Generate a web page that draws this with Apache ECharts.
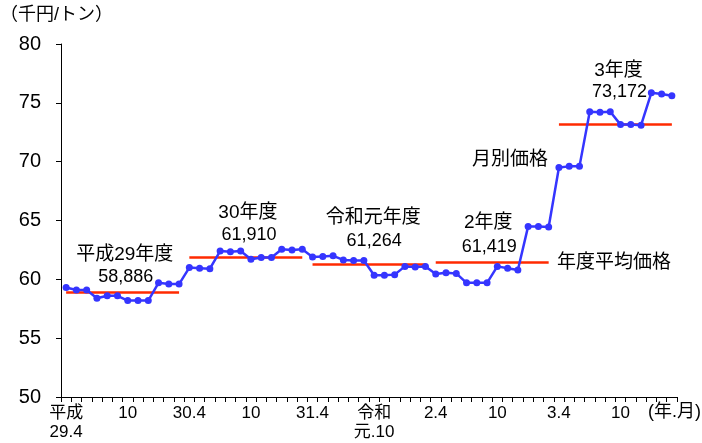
<!DOCTYPE html>
<html>
<head>
<meta charset="utf-8">
<script src="https://cdn.jsdelivr.net/npm/echarts@6/dist/echarts.min.js"></script>
<style>
  html, body { margin: 0; padding: 0; background: #fff; }
  #chart { width: 702px; height: 443px; }
</style>
</head>
<body>
<div id="chart"></div>
<script>
// Monthly prices (thousand yen per ton), April through March of each fiscal year
const fiscalYears = ['平成29年度', '30年度', '令和元年度', '2年度', '3年度'];
const fyStartYear = [2017, 2018, 2019, 2020, 2021];
const priceFY2017 = [59.3, 59.1, 59.1, 58.4, 58.6, 58.6, 58.2, 58.2, 58.2, 59.7, 59.6, 59.6];
const priceFY2018 = [61.0, 60.95, 60.9, 62.4, 62.35, 62.4, 61.7, 61.85, 61.85, 62.55, 62.5, 62.55];
const priceFY2019 = [61.9, 61.95, 62.0, 61.65, 61.6, 61.6, 60.35, 60.35, 60.4, 61.1, 61.05, 61.1];
const priceFY2020 = [60.45, 60.55, 60.5, 59.7, 59.7, 59.7, 61.1, 60.95, 60.8, 64.5, 64.5, 64.45];
const priceFY2021 = [69.5, 69.6, 69.6, 74.25, 74.2, 74.25, 73.15, 73.15, 73.1, 75.85, 75.75, 75.6];
// Fiscal-year average prices (yen per ton)
const yearAverages = [58886, 61910, 61264, 61419, 73172];
// Axis tick labels: [category index, text]
const tickLabels = [
  [0, '平成\n29.4'], [6, '10'], [12, '30.4'], [18, '10'], [24, '31.4'],
  [30, '令和\n元.10'], [36, '2.4'], [42, '10'], [48, '3.4'], [54, '10']
];
const yTicks = { min: 50, max: 80, interval: 5 };

const yearly = [priceFY2017, priceFY2018, priceFY2019, priceFY2020, priceFY2021];
const monthsOrder = [4, 5, 6, 7, 8, 9, 10, 11, 12, 1, 2, 3];
const categories = [];
const monthly = [];
yearly.forEach((arr, y) => {
  arr.forEach((v, m) => {
    const mo = monthsOrder[m];
    const yr = mo >= 4 ? fyStartYear[y] : fyStartYear[y] + 1;
    categories.push(yr + '.' + mo);
    monthly.push(v);
  });
});
const tickMap = {};
tickLabels.forEach(([i, t]) => { tickMap[i] = t; });

const FONT = '"Liberation Sans", "Noto Sans CJK JP", sans-serif';
const BLUE = '#3535FF';
const RED = '#FF2A00';

// Average price segments spanning each fiscal year
const avgSegments = yearAverages.map((a, y) => [
  { coord: [y * 12, a / 1000] },
  { coord: [y * 12 + 11, a / 1000] }
]);

const chart = echarts.init(document.getElementById('chart'), null, { renderer: 'canvas' });

const option = {
  animation: false,
  backgroundColor: '#fff',
  textStyle: { fontFamily: FONT },
  grid: { left: 61, right: 25, top: 44, bottom: 46, containLabel: false },
  xAxis: {
    type: 'category',
    data: categories,
    boundaryGap: true,
    axisLine: { lineStyle: { color: '#000', width: 1 } },
    axisTick: { show: true, interval: 0, length: 5, lineStyle: { color: '#000' } },
    axisLabel: {
      interval: 0,
      margin: 7,
      color: '#000',
      fontSize: 17,
      lineHeight: 19,
      fontFamily: FONT,
      formatter: (val, idx) => tickMap[idx] || ''
    },
    splitLine: { show: false }
  },
  yAxis: {
    type: 'value',
    min: yTicks.min,
    max: yTicks.max,
    interval: yTicks.interval,
    axisLine: { show: true, lineStyle: { color: '#000', width: 1 } },
    axisTick: { show: true, length: 5, lineStyle: { color: '#000' } },
    axisLabel: { color: '#000', fontSize: 20, margin: 20, fontFamily: FONT },
    splitLine: { show: false }
  },
  series: [
    {
      name: '月別価格',
      type: 'line',
      data: monthly,
      symbol: 'circle',
      symbolSize: 7,
      lineStyle: { color: BLUE, width: 2.5 },
      itemStyle: { color: BLUE },
      z: 3,
      markLine: {
        silent: true,
        symbol: ['none', 'none'],
        label: { show: false },
        lineStyle: { color: RED, width: 2.5, type: 'solid' },
        data: avgSegments,
        z: 2
      }
    }
  ]
};
chart.setOption(option);

// Fiscal-year captions above each average segment
const captionLift = [
  { dx: -3, name: 38, val: 15 },
  { dx: -3, name: 44, val: 22 },
  { dx: -1, name: 47, val: 23 },
  { dx: -9, name: 40, val: 16 },
  { dx: -2, name: 54, val: 32 }
];
const graphics = [];
yearAverages.forEach((a, y) => {
  const p = chart.convertToPixel({ gridIndex: 0 }, [y * 12 + 5.5, a / 1000]);
  const lift = captionLift[y];
  graphics.push({
    type: 'text',
    x: p[0] + lift.dx, y: p[1] - lift.name,
    style: { text: fiscalYears[y], font: '19px ' + FONT, fill: '#000', align: 'center', verticalAlign: 'middle' }
  });
  graphics.push({
    type: 'text',
    x: p[0] + lift.dx + 1, y: p[1] - lift.val,
    style: { text: a.toLocaleString('en-US'), font: '18px ' + FONT, fill: '#000', align: 'center', verticalAlign: 'middle' }
  });
});
graphics.push(
  { type: 'text', left: 0, top: 6, style: { text: '（千円/トン）', font: '18px ' + FONT, fill: '#000' } },
  { type: 'text', x: 701, y: 412, style: { text: '(年.月)', font: '18px ' + FONT, fill: '#000', align: 'right', verticalAlign: 'middle' } },
  { type: 'text', x: 548, y: 160, style: { text: '月別価格', font: '19px ' + FONT, fill: '#000', align: 'right', verticalAlign: 'middle' } },
  { type: 'text', x: 557, y: 263, style: { text: '年度平均価格', font: '19px ' + FONT, fill: '#000', align: 'left', verticalAlign: 'middle' } }
);
chart.setOption({ graphic: graphics });
</script>
</body>
</html>
